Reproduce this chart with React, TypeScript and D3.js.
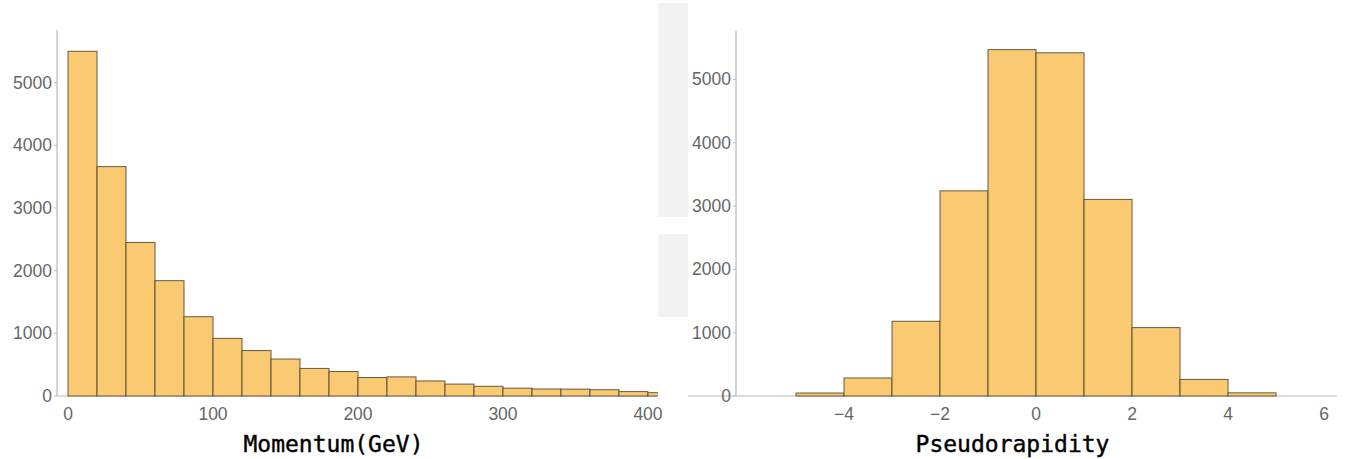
import * as d3 from 'd3'

// momentum histogram, bins of 20 GeV starting at 0
const momentumBinStart = 0
const momentumBinWidth = 20
const momentumCounts = [5500, 3660, 2450, 1840, 1265, 920, 725, 590, 440, 390, 295, 305, 240, 190, 155, 125, 112, 110, 100, 70, 53]
const momentumTicksX = [0, 100, 200, 300, 400]

// pseudorapidity histogram, unit bins from -6 to 6
const etaBinStart = -6
const etaBinWidth = 1
const etaCounts = [0, 47, 285, 1180, 3240, 5470, 5420, 3105, 1080, 262, 50, 0]
const etaTicksX = [-4, -2, 0, 2, 4, 6]

const countTicks = [0, 1000, 2000, 3000, 4000, 5000]

const W = 1350
const H = 459
const FILL = '#F9CA72'
const EDGE = '#4f3f2e'
const AXIS = '#b9b9b9'
const TICK_TEXT = '#666'

interface PanelProps {
  counts: number[]
  binStart: number
  binWidth: number
  xDomain: [number, number]
  yMax: number
  left: number
  right: number
  xTicks: number[]
  title: string
  baselineFrom: number
  clipId: string
}

const fmtTick = (v: number) => (v < 0 ? '\u2212' + Math.abs(v) : String(v))

const Panel = ({ counts, binStart, binWidth, xDomain, yMax, left, right, xTicks, title, baselineFrom, clipId }: PanelProps) => {
  const top = 30
  const bottom = 396
  const x = d3.scaleLinear().domain(xDomain).range([left, right])
  const y = d3.scaleLinear().domain([0, yMax]).range([bottom, top])

  const bins = counts.map((c, i) => ({ x0: binStart + i * binWidth, x1: binStart + (i + 1) * binWidth, c }))

  return (
    <g>
      <defs>
        <clipPath id={clipId}>
          <rect x={left} y={0} width={right - left} height={bottom + 2} />
        </clipPath>
      </defs>
      {/* baseline */}
      <line x1={baselineFrom} x2={right} y1={bottom} y2={bottom} stroke={AXIS} strokeWidth={1.2} />
      <g clipPath={`url(#${clipId})`}>
        {bins.filter(b => b.c > 0).map((b, i) => (
          <rect
            key={i}
            x={x(b.x0)}
            y={y(b.c)}
            width={x(b.x1) - x(b.x0)}
            height={bottom - y(b.c)}
            fill={FILL}
            stroke={EDGE}
            strokeWidth={1}
            strokeOpacity={0.85}
          />
        ))}
      </g>
      {/* y axis */}
      <line x1={left} x2={left} y1={top} y2={bottom} stroke={AXIS} strokeWidth={1.2} />
      {countTicks.map(t => (
        <g key={t}>
          <line x1={left - 3} x2={left} y1={y(t)} y2={y(t)} stroke={AXIS} />
          <text x={left - 5} y={y(t) + 6} textAnchor="end" fontSize={17.5} fill={TICK_TEXT} fontFamily="'Liberation Sans', Arial, sans-serif">
            {t}
          </text>
        </g>
      ))}
      {xTicks.map(t => (
        <text key={t} x={x(t)} y={420} textAnchor="middle" fontSize={17.5} fill={TICK_TEXT} fontFamily="'Liberation Sans', Arial, sans-serif">
          {fmtTick(t)}
        </text>
      ))}
      <text x={(left + right) / 2 - 24} y={452} textAnchor="middle" fontSize={23} fill="#000" stroke="#000" strokeWidth={0.4} fontFamily="'DejaVu Sans Mono', monospace">
        {title}
      </text>
    </g>
  )
}

export default function App() {
  return (
    <svg width={W} height={H} style={{ position: 'absolute', left: 0, top: 0, background: '#fff' }}>
      <rect width={W} height={H} fill="#fff" />
      {/* faint watermark blocks between the panels */}
      <rect x={658} y={3} width={30} height={214} fill="#f2f2f2" />
      <rect x={658} y={234} width={30} height={83} fill="#f2f2f2" />
      <Panel
        counts={momentumCounts}
        binStart={momentumBinStart}
        binWidth={momentumBinWidth}
        xDomain={[-7.6, 406.9]}
        yMax={5840}
        left={57}
        right={658}
        xTicks={momentumTicksX}
        title="Momentum(GeV)"
        baselineFrom={57}
        clipId="clipMomentum"
      />
      <Panel
        counts={etaCounts}
        binStart={etaBinStart}
        binWidth={etaBinWidth}
        xDomain={[-6.25, 6.27]}
        yMax={5780}
        left={736}
        right={1337}
        xTicks={etaTicksX}
        title="Pseudorapidity"
        baselineFrom={688}
        clipId="clipEta"
      />
    </svg>
  )
}
